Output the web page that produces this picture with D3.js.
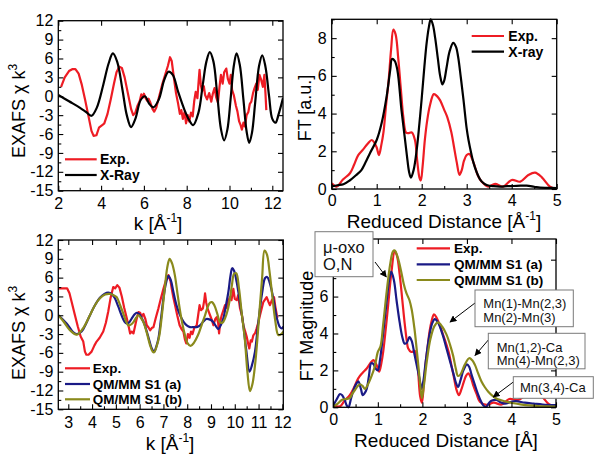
<!DOCTYPE html>
<html><head><meta charset="utf-8">
<script src="https://cdnjs.cloudflare.com/ajax/libs/d3/7.8.5/d3.min.js"></script>
<style>
html,body{margin:0;padding:0;background:#fff;}
svg{display:block;font-family:"Liberation Sans",Arial,Helvetica,sans-serif;}
</style></head><body>
<svg id="c" width="601" height="459"></svg>
<script>
// ---------------- DATA ----------------
// Panel A (top-left): EXAFS, Exp. vs X-Ray
const aExpK = [2.13,2.3,2.5,2.65,2.8,2.95,3.1,3.25,3.4,3.55,3.65,3.78,3.9,4.05,4.15,4.3,4.45,4.6,4.72,4.85,4.97,5.1,5.25,5.4,5.5,5.6,5.7,5.8,5.88,5.95,6.0,6.08,6.15,6.22,6.3,6.4,6.48,6.58,6.7,6.85,7.0,7.12,7.22,7.3,7.4,7.5,7.6,7.68,7.75,7.82,7.9,7.97,8.05,8.12,8.2,8.28,8.35,8.42,8.5,8.56,8.6,8.66,8.72,8.8,8.86,8.95,9.05,9.15,9.22,9.3,9.38,9.46,9.53,9.6,9.68,9.75,9.85,9.92,10.0,10.06,10.12,10.2,10.3,10.37,10.45,10.52,10.58,10.65,10.72,10.8,10.88,10.95,11.02,11.1,11.17,11.25,11.32,11.4,11.48,11.56,11.63,11.68,11.72];
const aExpV = [1.5,3.0,4.0,4.3,4.3,3.6,1.8,-0.5,-3.0,-5.5,-6.3,-6.2,-5.0,-4.6,-4.3,-2.8,-0.5,2.0,3.8,4.7,4.5,3.0,0.5,-2.0,-3.0,-2.6,-1.5,-0.8,0.3,-0.2,0.4,-0.3,-0.7,-0.4,-1.0,-2.0,-2.45,-1.8,-0.2,1.8,3.5,4.8,6.2,5.6,3.0,0.5,-1.2,-2.8,-2.2,-3.6,-2.5,-4.3,-3.0,-4.0,-2.6,-3.2,-0.8,0.7,-0.3,2.5,4.2,1.8,0.8,1.6,0.2,-0.5,0.5,-0.85,0.4,1.3,-0.2,-1.0,1.4,3.4,2.0,3.8,4.4,2.8,2.0,3.4,1.0,0.2,-1.5,-2.4,-4.0,-4.6,-5.3,-4.2,-4.8,-3.0,-2.5,-1.2,-0.85,0.5,1.3,2.0,1.0,3.4,2.6,1.5,3.4,0.5,-2.2];
const aXrayK = [2.0,2.5,3.0,3.3,3.55,3.8,4.1,4.35,4.55,4.75,5.0,5.2,5.4,5.6,5.85,6.05,6.25,6.45,6.7,6.95,7.15,7.35,7.6,7.9,8.1,8.3,8.55,8.75,8.92,9.08,9.25,9.42,9.6,9.75,9.9,10.05,10.2,10.33,10.48,10.65,10.8,10.92,11.05,11.2,11.38,11.53,11.68,11.85,12.0,12.15,12.3,12.5];
const aXrayV = [0.2,-0.8,-1.8,-2.5,-3.1,-1.8,1.8,5.2,6.8,5.5,1.0,-3.0,-4.9,-3.6,-0.6,0.0,-1.2,-1.75,-0.5,2.6,3.9,3.4,0.7,-2.2,-3.7,-4.6,-2.6,1.8,5.5,7.0,5.5,0.5,-5.2,-7.0,-5.3,-0.5,4.8,6.8,5.0,-0.5,-5.6,-7.4,-5.8,-1.0,4.8,6.5,4.7,0.0,-3.6,-4.2,-2.8,-0.3];

// Panel B (top-right): FT, Exp. vs X-ray
const bExpR = [0,0.11,0.25,0.41,0.5,0.59,0.7,0.8,0.89,0.95,1.0,1.05,1.1,1.15,1.21,1.26,1.32,1.37,1.42,1.48,1.54,1.59,1.65,1.7,1.78,1.85,1.9,1.95,1.98,2.02,2.07,2.12,2.18,2.27,2.35,2.41,2.5,2.57,2.66,2.72,2.78,2.84,2.89,2.94,3.0,3.06,3.12,3.18,3.25,3.33,3.48,3.63,3.81,4.0,4.19,4.37,4.52,4.67,4.85,5.0];
const bExpV = [0.3,0.13,0.5,0.85,1.3,1.8,2.1,2.4,2.6,2.45,2.2,1.8,2.3,3.0,4.5,5.6,7.4,8.45,8.2,6.9,5.2,3.85,3.0,2.96,3.0,2.6,1.5,0.6,0.45,1.2,2.6,3.6,4.4,5.03,4.9,4.7,4.2,3.8,3.0,2.2,1.4,0.75,1.0,1.5,1.8,1.86,1.6,1.2,0.7,0.4,0.13,0.27,0.13,0.48,0.39,0.74,0.87,0.62,0.13,0.0];
const bXrayR = [0,0.13,0.26,0.4,0.55,0.66,0.75,0.85,1.0,1.11,1.22,1.3,1.34,1.4,1.46,1.55,1.62,1.67,1.72,1.76,1.82,1.89,1.95,2.0,2.06,2.11,2.16,2.2,2.25,2.3,2.36,2.41,2.46,2.5,2.55,2.62,2.7,2.76,2.81,2.87,2.93,3.0,3.04,3.1,3.15,3.22,3.3,3.38,3.46,3.6,3.74,3.9,4.04,4.2,4.33,4.5,4.63,4.8,5.0];
const bXrayV = [0.13,0.2,0.25,0.45,0.75,1.0,1.4,1.9,2.6,3.5,4.9,6.3,6.9,6.8,6.3,4.2,2.8,1.8,0.9,0.6,1.0,2.1,3.5,4.8,6.5,7.75,8.6,9.0,8.7,8.0,6.9,6.0,5.55,5.75,6.4,7.3,7.75,7.55,7.0,5.9,4.7,3.2,2.6,1.9,1.4,0.9,0.5,0.3,0.2,0.15,0.13,0.15,0.16,0.18,0.18,0.12,0.07,0.06,0.05];

// Panel C (bottom-left): EXAFS, Exp. vs QM/MM S1 (a), (b)
const cExpK = [2.58,2.75,2.95,3.05,3.15,3.28,3.4,3.52,3.63,3.7,3.76,3.85,3.98,4.1,4.19,4.32,4.47,4.58,4.68,4.78,4.89,4.97,5.06,5.15,5.25,5.35,5.46,5.55,5.6,5.67,5.74,5.82,5.88,5.95,6.02,6.08,6.16,6.24,6.3,6.38,6.44,6.52,6.58,6.68,6.79,6.9,7.0,7.1,7.21,7.3,7.35,7.42,7.49,7.58,7.68,7.76,7.84,7.9,7.96,8.03,8.1,8.16,8.22,8.3,8.4,8.46,8.52,8.58,8.66,8.72,8.75,8.8,8.86,8.96,9.04,9.1,9.18,9.24,9.3,9.34,9.4,9.45,9.52,9.59,9.66,9.72,9.8,9.86,9.94,10.0,10.08,10.14,10.22,10.3,10.36,10.44,10.5,10.56,10.61,10.67,10.72,10.78,10.86,10.92,11.0,11.06,11.14,11.2,11.27,11.34,11.41,11.48,11.56,11.65,11.7,11.77,11.8];
const cExpV = [4.3,4.3,4.3,3.5,2.0,0.0,-1.8,-3.4,-4.2,-5.8,-6.3,-6.3,-5.8,-4.8,-4.2,-3.6,-2.6,-1.2,0.6,2.8,4.5,4.3,4.8,4.4,3.0,1.2,-0.5,-2.0,-2.9,-2.6,-2.9,-1.5,-0.5,0.5,0.4,-0.2,0.2,-0.6,-1.6,-2.0,-2.4,-2.0,-1.9,-0.4,1.1,2.8,4.2,5.5,6.4,5.4,4.2,2.8,1.6,0.0,-1.6,-2.2,-2.6,-3.8,-4.5,-3.0,-3.6,-2.6,-3.0,-2.0,-1.6,0.0,1.6,0.8,1.1,2.5,3.5,2.0,1.0,0.0,-0.8,-1.6,-0.6,-0.3,-1.2,-2.9,-0.8,0.0,0.8,1.6,1.2,2.2,2.9,2.4,4.2,2.6,2.4,3.2,1.1,0.0,-1.6,-2.6,-3.4,-4.5,-5.3,-4.0,-4.2,-3.2,-2.8,-2.1,-1.0,0.0,1.2,2.1,2.5,2.9,2.2,1.6,2.4,2.9,1.5,0.0,-0.4];
const cAK = [2.58,2.93,3.2,3.35,3.56,3.75,3.91,4.12,4.33,4.52,4.68,4.85,4.96,5.1,5.24,5.36,5.46,5.57,5.67,5.78,5.88,5.98,6.09,6.2,6.3,6.42,6.51,6.61,6.7,6.79,6.9,7.0,7.1,7.21,7.31,7.42,7.55,7.7,7.84,7.98,8.12,8.26,8.4,8.54,8.68,8.8,8.96,9.1,9.2,9.31,9.42,9.52,9.62,9.73,9.82,9.89,9.97,10.08,10.22,10.36,10.48,10.62,10.72,10.85,10.95,11.06,11.16,11.27,11.36,11.46,11.55,11.66,11.77,11.9,11.98,12.04];
const cAV = [0.0,-1.3,-2.7,-3.0,-2.6,-1.3,0.0,1.6,2.8,3.4,3.6,3.3,2.7,1.4,0.0,-1.0,-1.3,-1.1,-0.5,0.1,0.4,0.2,-0.5,-1.4,-2.6,-4.2,-5.3,-5.8,-5.0,-3.7,-0.5,2.7,5.0,6.3,5.6,3.7,1.6,0.0,-1.0,-1.6,-1.9,-1.9,-1.9,-1.6,-1.0,-0.6,-0.7,-1.1,-1.7,-2.2,-1.5,-0.5,1.4,3.7,6.3,7.5,7.1,5.3,2.0,-1.6,-5.5,-9.0,-8.0,-5.8,-2.5,1.1,3.8,5.9,6.1,5.3,4.0,1.8,-0.5,-1.9,-2.1,-1.8];
const cBK = [2.58,2.8,3.05,3.35,3.6,3.91,4.12,4.33,4.55,4.75,4.9,5.03,5.18,5.31,5.42,5.52,5.63,5.74,5.85,5.95,6.05,6.16,6.3,6.44,6.55,6.61,6.72,6.83,6.95,7.07,7.17,7.26,7.36,7.48,7.6,7.73,7.88,8.02,8.14,8.28,8.45,8.62,8.75,8.86,8.96,9.04,9.14,9.26,9.38,9.48,9.59,9.7,9.8,9.88,9.97,10.06,10.18,10.3,10.42,10.53,10.64,10.74,10.85,10.95,11.05,11.15,11.25,11.35,11.46,11.58,11.7,11.83,11.95,12.04];
const cBV = [0.0,-1.0,-2.3,-3.1,-2.2,0.0,1.6,2.7,3.3,3.4,3.2,2.9,1.6,0.3,-0.9,-1.6,-1.5,-1.1,-0.4,0.0,-0.4,-1.1,-2.8,-4.8,-5.8,-5.9,-4.9,-3.2,0.5,4.8,7.8,9.0,8.3,6.4,3.2,0.0,-2.8,-4.5,-4.9,-4.4,-3.2,-1.4,0.0,1.3,2.0,2.1,1.6,0.3,-1.1,-1.2,-0.5,0.8,2.7,4.8,6.6,6.7,4.2,0.0,-3.7,-9.0,-12.1,-11.0,-8.0,-3.8,1.2,6.0,10.3,9.7,7.0,3.0,-0.8,-3.15,-3.0,-2.6];

// Panel D (bottom-right): FT magnitude, Exp. vs QM/MM S1 (a), (b)
const dExpR = [0,0.15,0.25,0.37,0.47,0.56,0.65,0.75,0.85,0.9,0.97,1.03,1.08,1.12,1.18,1.23,1.3,1.38,1.43,1.49,1.55,1.6,1.65,1.68,1.75,1.83,1.87,1.9,1.95,1.99,2.03,2.07,2.12,2.16,2.21,2.26,2.32,2.39,2.47,2.54,2.6,2.65,2.71,2.76,2.82,2.88,2.93,2.98,3.03,3.09,3.14,3.22,3.29,3.44,3.6,3.78,3.95,4.15,4.35,4.52,4.68,4.85,5.0];
const dExpV = [0.13,0.05,0.35,0.66,1.1,1.57,1.85,2.1,2.45,2.56,2.3,1.93,2.4,3.0,4.3,5.5,7.2,8.45,8.2,7.2,5.8,4.6,3.6,3.2,3.0,3.05,2.7,2.1,0.6,0.25,1.2,2.3,3.3,4.1,4.7,5.04,4.85,4.45,3.9,3.4,2.9,2.3,1.6,1.0,0.66,1.0,1.38,1.7,1.84,1.6,1.2,0.7,0.3,0.13,0.25,0.15,0.45,0.4,0.7,0.85,0.6,0.15,0.05];
const dAR = [0,0.08,0.15,0.2,0.26,0.3,0.34,0.4,0.45,0.5,0.56,0.62,0.66,0.7,0.75,0.8,0.85,0.9,0.95,1.0,1.05,1.12,1.2,1.26,1.3,1.36,1.42,1.49,1.55,1.6,1.65,1.71,1.76,1.82,1.88,1.94,1.98,2.02,2.08,2.15,2.22,2.28,2.35,2.46,2.54,2.62,2.7,2.75,2.8,2.86,2.92,3.0,3.05,3.1,3.18,3.25,3.32,3.37,3.43,3.5,3.55,3.66,3.75,3.85,4.0,4.1,4.3,4.5,4.7,5.0];
const dAV = [0.1,0.45,0.72,0.65,0.37,0.1,0.0,0.5,0.9,1.2,1.4,1.0,0.66,0.75,1.0,1.7,2.38,2.35,2.1,2.0,2.6,4.0,5.8,7.0,7.35,6.9,5.8,4.6,3.8,3.45,3.5,3.8,3.6,2.9,2.2,1.5,1.0,1.4,2.6,3.8,4.55,4.78,4.6,3.9,3.2,2.5,1.8,1.35,1.1,1.5,2.0,2.33,2.2,1.8,1.2,0.7,0.3,0.1,0.02,0.25,0.35,0.4,0.28,0.2,0.3,0.33,0.25,0.2,0.15,0.12];
const dBR = [0,0.1,0.19,0.28,0.37,0.43,0.49,0.55,0.6,0.66,0.71,0.78,0.86,0.93,1.0,1.06,1.12,1.2,1.28,1.34,1.38,1.45,1.52,1.58,1.64,1.71,1.76,1.82,1.87,1.92,1.96,1.99,2.03,2.1,2.18,2.27,2.35,2.45,2.54,2.62,2.69,2.75,2.8,2.86,2.95,3.05,3.12,3.18,3.25,3.33,3.4,3.48,3.57,3.66,3.77,3.89,4.05,4.2,4.4,4.6,4.8,5.0];
const dBV = [0.04,0.2,0.4,0.45,0.5,0.75,0.95,1.15,1.25,1.15,1.0,1.25,1.7,2.2,3.0,3.3,4.5,6.3,7.8,8.45,8.5,8.1,7.4,6.7,6.2,5.8,5.3,4.3,3.2,2.0,1.0,0.5,1.1,2.5,3.7,4.4,4.6,4.35,3.95,3.4,2.8,2.1,1.7,1.8,2.3,2.66,2.55,2.3,1.85,1.38,1.1,0.84,0.63,0.48,0.38,0.3,0.22,0.16,0.1,0.07,0.05,0.04];

// Tick values (labelled) — in panel D the "8" label is hidden behind the μ-oxo box in the reference
const aXTicks = [2,4,6,8,10,12], aYTicks = [12,9,6,3,0,-3,-6,-9,-12,-15];
const bXTicks = [0,1,2,3,4,5], bYTicks = [0,2,4,6,8];
const cXTicks = [3,4,5,6,7,8,9,10,11,12], cYTicks = [12,9,6,3,0,-3,-6,-9,-12,-15];
const dXTicks = [0,1,2,3,4,5], dYTicks = [0,2,4,6,8], dYHidden = [8];

// Legend / annotation labels
const aLegend = ["Exp.","X-Ray"];
const bLegend = ["Exp.","X-ray"];
const cLegend = ["Exp.","QM/MM S1 (a)","QM/MM S1 (b)"];
const dLegend = ["Exp.","QM/MM S1 (a)","QM/MM S1 (b)"];
const dNotes = [["μ-oxo","O,N"],["Mn(1)-Mn(2,3)","Mn(2)-Mn(3)"],["Mn(1,2)-Ca","Mn(4)-Mn(2,3)"],["Mn(3,4)-Ca"]];

// ---------------- DRAWING ----------------
const RED="#ee1c24", BLACK="#000000", NAVY="#1a1a86", OLIVE="#8a8a1c";
const svg = d3.select("#c");
const defs = svg.append("defs");
defs.append("marker").attr("id","arr").attr("viewBox","0 0 10 10").attr("refX",9).attr("refY",5)
  .attr("markerWidth",7).attr("markerHeight",7).attr("markerUnits","userSpaceOnUse").attr("orient","auto")
  .append("path").attr("d","M0,0 L10,5 L0,10 Z").attr("fill","#000");

function range(a,b,s){const r=[];for(let v=a;v<=b+1e-9;v+=s)r.push(+v.toFixed(4));return r;}

function panel(o){
  const x = d3.scaleLinear().domain(o.xDomain).range([o.L,o.R]);
  const y = d3.scaleLinear().domain(o.yDomain).range([o.B,o.T]);
  const g = svg.append("g");
  const cid = "clip"+o.id;
  defs.append("clipPath").attr("id",cid).append("rect")
    .attr("x",o.L).attr("y",o.T-2).attr("width",o.R-o.L).attr("height",o.B-o.T+4);
  o.series.forEach(s=>{
    const pts = s.x.map((d,i)=>[d,s.y[i]]);
    const line = d3.line().x(d=>x(d[0])).y(d=>y(d[1]))
      .curve(s.smooth ? d3.curveCatmullRom.alpha(0.5) : d3.curveLinear);
    g.append("path").datum(pts).attr("d",line).attr("fill","none")
      .attr("stroke",s.color).attr("stroke-width",2.2).attr("stroke-linejoin","round")
      .attr("clip-path",`url(#${cid})`);
  });
  const hidden = o.yHidden || [];
  const fmtX = d=>String(d);
  const fmtY = d=>hidden.includes(d) ? "" : String(d);
  const minorX = range(o.xMinor[0], o.xMinor[1], o.xMinor[2]).filter(v=>!o.xTicks.includes(v));
  const minorY = range(o.yMinor[0], o.yMinor[1], o.yMinor[2]).filter(v=>!o.yTicks.includes(v));
  g.append("g").attr("transform",`translate(0,${o.B})`).call(d3.axisBottom(x).tickValues(minorX).tickSize(-3).tickFormat(""));
  g.append("g").attr("transform",`translate(${o.L},0)`).call(d3.axisLeft(y).tickValues(minorY).tickSize(-3).tickFormat(""));
  const bx = g.append("g").attr("transform",`translate(0,${o.B})`)
    .call(d3.axisBottom(x).tickValues(o.xTicks).tickSize(-5).tickPadding(o.xPad).tickFormat(fmtX));
  const ly = g.append("g").attr("transform",`translate(${o.L},0)`)
    .call(d3.axisLeft(y).tickValues(o.yTicks).tickSize(-5).tickPadding(5).tickFormat(fmtY));
  g.append("g").attr("transform",`translate(0,${o.T})`)
    .call(d3.axisTop(x).tickValues(o.xTicks).tickSize(-5).tickFormat(""));
  g.append("g").attr("transform",`translate(${o.R},0)`)
    .call(d3.axisRight(y).tickValues(o.yTicks).tickSize(-5).tickFormat(""));
  g.selectAll(".domain").remove();
  g.selectAll(".tick line").attr("stroke-width",1.1);
  g.selectAll(".tick text").filter(function(){return this.textContent==="";}).remove();
  [bx,ly].forEach(a=>a.attr("font-size",16).attr("font-family",null));
  g.append("rect").attr("x",o.L).attr("y",o.T).attr("width",o.R-o.L).attr("height",o.B-o.T)
    .attr("fill","none").attr("stroke","#000").attr("stroke-width",1.3);
  const xt = g.append("text").attr("x",o.xTitle.x).attr("y",o.xTitle.y).attr("text-anchor","middle")
    .attr("font-size",19).attr("fill","#000");
  o.xTitle.parts.forEach(p=>{
    const t = xt.append("tspan").text(p.t);
    if(p.sup){t.attr("dy",-8).attr("font-size",12);} else if(p.after){t.attr("dy",8);}
  });
  const yt = g.append("text").attr("transform",`translate(${o.yTitle.x},${o.yTitle.y}) rotate(-90)`)
    .attr("text-anchor","middle").attr("font-size",18).attr("fill","#000");
  o.yTitle.parts.forEach(p=>{
    const t = yt.append("tspan").text(p.t);
    if(p.sup){t.attr("dy",-8).attr("font-size",12);} else if(p.after){t.attr("dy",8);}
  });
  const lg = g.append("g");
  o.legend.items.forEach((it,i)=>{
    const yy = o.legend.y[i];
    lg.append("line").attr("x1",o.legend.x0).attr("x2",o.legend.x1).attr("y1",yy).attr("y2",yy)
      .attr("stroke",it.color).attr("stroke-width",2.2);
    lg.append("text").attr("x",o.legend.tx).attr("y",yy).attr("dy","0.36em")
      .attr("font-size",o.legend.fs).attr("font-weight","bold").text(it.label);
  });
  return {x,y,g};
}

panel({id:"A", L:58.3,R:283,T:20.7,B:190.7, xDomain:[2,12.5], yDomain:[-15,12],
  xTicks:aXTicks, yTicks:aYTicks, xMinor:[2,12,1], yMinor:[-15,12,1.5], xPad:7,
  series:[{x:aExpK,y:aExpV,color:RED,smooth:false},{x:aXrayK,y:aXrayV,color:BLACK,smooth:true}],
  xTitle:{x:158,y:229.5,parts:[{t:"k [Å"},{t:"-1",sup:true},{t:"]",after:true}]},
  yTitle:{x:24.5,y:111,parts:[{t:"EXAFS χ k"},{t:"3",sup:true}]},
  legend:{x0:65,x1:96.7,tx:100,fs:14,y:[159.3,175],items:[{label:aLegend[0],color:RED},{label:aLegend[1],color:BLACK}]}
});

panel({id:"B", L:331.7,R:556.7,T:19.3,B:189, xDomain:[0,5], yDomain:[0,9],
  xTicks:bXTicks, yTicks:bYTicks, xMinor:[0,5,0.5], yMinor:[0,9,1], xPad:5.5,
  series:[{x:bExpR,y:bExpV,color:RED,smooth:true},{x:bXrayR,y:bXrayV,color:BLACK,smooth:true}],
  xTitle:{x:444,y:227.5,parts:[{t:"Reduced Distance [Å"},{t:"-1",sup:true},{t:"]",after:true}]},
  yTitle:{x:311,y:108,parts:[{t:"FT [a.u.]"}]},
  legend:{x0:471.7,x1:504,tx:508.3,fs:14,y:[36,51.7],items:[{label:bLegend[0],color:RED},{label:bLegend[1],color:BLACK}]}
});

panel({id:"C", L:58.3,R:283.3,T:240,B:409.3, xDomain:[2.58,12.04], yDomain:[-15,12],
  xTicks:cXTicks, yTicks:cYTicks, xMinor:[3,12,0.5], yMinor:[-15,12,1.5], xPad:7.2,
  series:[{x:cExpK,y:cExpV,color:RED,smooth:false},{x:cAK,y:cAV,color:NAVY,smooth:true},{x:cBK,y:cBV,color:OLIVE,smooth:true}],
  xTitle:{x:170,y:449.5,parts:[{t:"k [Å"},{t:"-1",sup:true},{t:"]",after:true}]},
  yTitle:{x:24.5,y:333,parts:[{t:"EXAFS χ k"},{t:"3",sup:true}]},
  legend:{x0:65,x1:90,tx:92.7,fs:13.5,y:[368.3,384,399.3],items:[{label:cLegend[0],color:RED},{label:cLegend[1],color:NAVY},{label:cLegend[2],color:OLIVE}]}
});

panel({id:"D", L:333.3,R:556,T:239,B:407.3, xDomain:[0,5], yDomain:[0,9.12],
  xTicks:dXTicks, yTicks:dYTicks, yHidden:dYHidden, xMinor:[0,5,0.5], yMinor:[0,9,1], xPad:6.5,
  series:[{x:dExpR,y:dExpV,color:RED,smooth:true},{x:dAR,y:dAV,color:NAVY,smooth:true},{x:dBR,y:dBV,color:OLIVE,smooth:true}],
  xTitle:{x:446,y:447,parts:[{t:"Reduced Distance [Å]"}]},
  yTitle:{x:313,y:326,parts:[{t:"FT Magnitude"}]},
  legend:{x0:416.7,x1:450,tx:454,fs:13.5,y:[248.3,264.3,280],items:[{label:dLegend[0],color:RED},{label:dLegend[1],color:NAVY},{label:dLegend[2],color:OLIVE}]}
});

// annotation boxes (panel D)
const notes = [
  {lines:dNotes[0], box:[315,231.7,58,45], tx:323, ty:[253,270], fs:16.5, arrow:[375,262,386.3,277]},
  {lines:dNotes[1], box:[475,290,98.3,36.7], tx:483.3, ty:[307.5,321.5], fs:13, arrow:[475,303,450,322]},
  {lines:dNotes[2], box:[488.3,333.3,96.7,35.5], tx:496.7, ty:[351.5,365], fs:13, arrow:[488.3,340,475,355.5]},
  {lines:dNotes[3], box:[513.3,376.7,80,21.6], tx:520, ty:[392], fs:13, arrow:[513.3,382,493.3,397]}
];
const ng = svg.append("g");
notes.forEach(n=>{
  ng.append("line").attr("x1",n.arrow[0]).attr("y1",n.arrow[1]).attr("x2",n.arrow[2]).attr("y2",n.arrow[3])
    .attr("stroke","#000").attr("stroke-width",1).attr("marker-end","url(#arr)");
  ng.append("rect").attr("x",n.box[0]).attr("y",n.box[1]).attr("width",n.box[2]).attr("height",n.box[3])
    .attr("fill","#fff").attr("stroke","#7a7a7a").attr("stroke-width",1);
  n.lines.forEach((l,i)=>{
    ng.append("text").attr("x",n.tx).attr("y",n.ty[i]).attr("font-size",n.fs).attr("fill","#111").text(l);
  });
});
</script>
</body></html>
